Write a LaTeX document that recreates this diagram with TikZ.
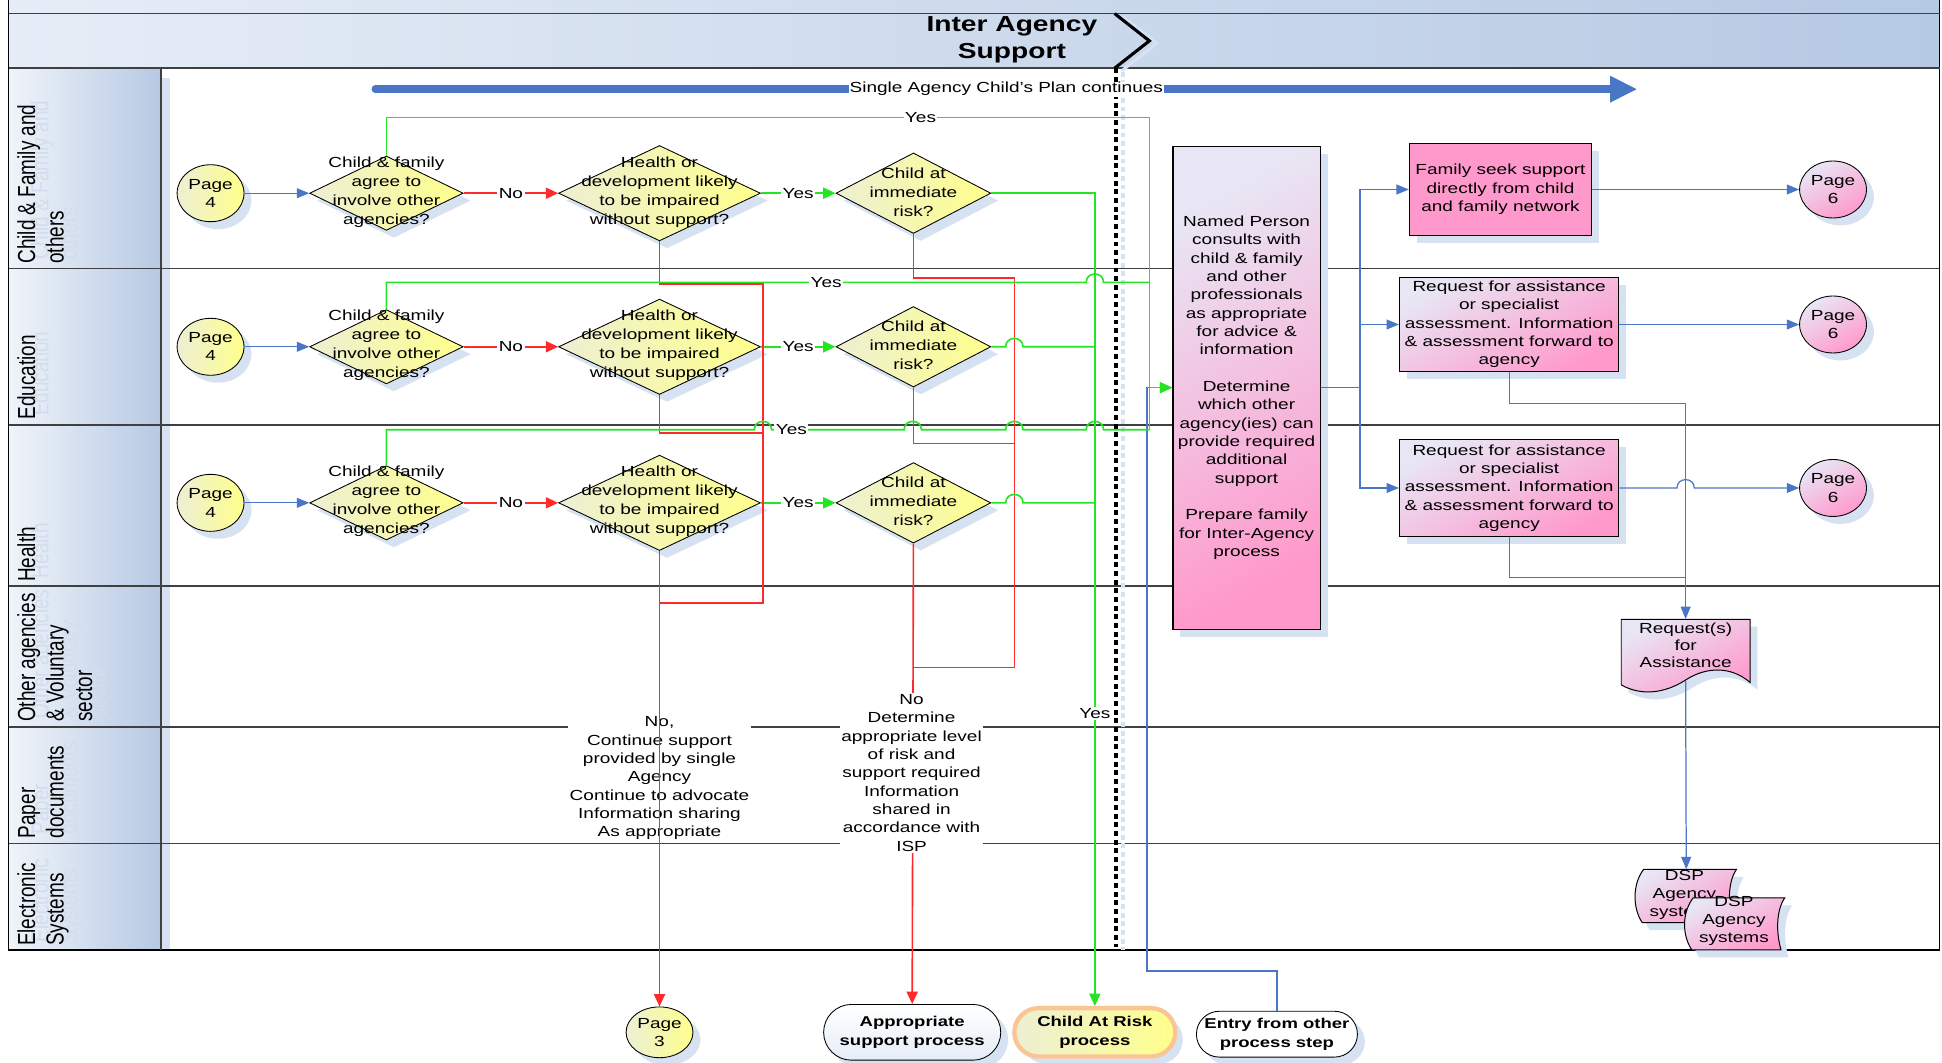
\documentclass[tikz,border=0pt]{standalone}
\usepackage{fontspec}
\usepackage{graphicx}
\setmainfont{Liberation Sans}[FakeStretch=1.3]
\newfontfamily\lanefont{Liberation Sans}
\usetikzlibrary{shapes.geometric,shapes.misc,arrows.meta,shadows}
\definecolor{lnblue}{HTML}{4A76C6}
\definecolor{lnred}{HTML}{FF2A2A}
\definecolor{lngreen}{HTML}{22E622}
\definecolor{shad}{HTML}{D6E2F1}
\definecolor{hdrL}{HTML}{E6EDF7}
\definecolor{hdrR}{HTML}{B6C9E3}
\definecolor{ylwL}{HTML}{EDEFD4}
\definecolor{ylwR}{HTML}{FFFF8C}
\definecolor{pnkL}{HTML}{E8E6F4}
\definecolor{pnkR}{HTML}{FF99CC}
\definecolor{orng}{HTML}{F9C595}
\definecolor{laneline}{HTML}{404040}
\definecolor{ghost}{HTML}{D3DDEE}
\newcommand{\lanetxt}[1]{\scalebox{1}[1.3]{\lanefont\fontsize{15.3}{17.7}\selectfont\begin{tabular}{@{}l@{}}#1\end{tabular}}}
\begin{document}
\begin{tikzpicture}[x=1pt,y=-1pt,
  txtbase/.style={font=\fontsize{11.8}{14.8}\selectfont, align=center, inner sep=0pt},
  dtxt/.style={font=\fontsize{11.8}{15.3}\selectfont, align=center, inner sep=0pt},
  lbl/.style={font=\fontsize{11.8}{14.8}\selectfont, fill=white, text=black, inner sep=1.2pt, align=center},
  shdw/.style={drop shadow={shadow xshift=6pt,shadow yshift=-6pt,fill=shad,opacity=1}},
  dia/.style={diamond, draw=black, line width=0.7pt, inner sep=0pt, left color=ylwL, right color=ylwR, shdw},
  pgy/.style={ellipse, draw=black, line width=0.7pt, minimum width=54pt, minimum height=46pt, left color=ylwL, right color=ylwR, shdw, txtbase},
  pgrad/.style={top color=pnkL, bottom color=pnkR, shading angle=30},
  pgp/.style={ellipse, draw=black, line width=0.7pt, minimum width=54pt, minimum height=46pt, pgrad, shdw, txtbase},
  pbox/.style={rectangle, draw=black, line width=1pt, shdw, txtbase},
  termbox/.style={rounded rectangle, draw=black, line width=0.7pt, inner sep=0pt, shdw, align=center, font=\bfseries\fontsize{11.5}{14.8}\selectfont},
  blueln/.style={draw=lnblue, line width=1pt},
  bluearr/.style={blueln, -{Triangle[length=10pt,width=8pt]}},
  redln/.style={draw=lnred, line width=1.3pt},
  redarr/.style={redln, -{Triangle[length=10pt,width=9pt]}},
  grnln/.style={draw=lngreen, line width=1.3pt},
  grnarr/.style={grnln, -{Triangle[length=10pt,width=9pt]}},
  laneln/.style={draw=laneline, line width=1.2pt},
  lanelbl/.style={rotate=90, anchor=north west, inner sep=0pt},
]
\useasboundingbox (0,0) rectangle (1568,858);
\fill[white] (0,0) rectangle (1568,858);

% bands
\shade[left color=hdrL, right color=hdrR] (7,0) rectangle (1566,11);
\shade[left color=hdrL, right color=hdrR] (7,11) rectangle (1566,55);
\shade[left color=hdrL!60!white, right color=hdrR] (7,55) rectangle (130,767);
\fill[shad] (130,63) rectangle (137,767);

% lane labels
\node[lanelbl, text=ghost] (g1) at (23,210) {\lanetxt{Child \& Family and\\others}};
\node[lanelbl] (l1) at (12,213) {\lanetxt{Child \& Family and\\others}};
\node[lanelbl, text=ghost] (g2) at (23,336) {\lanetxt{Education}};
\node[lanelbl] (l2) at (12,339) {\lanetxt{Education}};
\node[lanelbl, text=ghost] (g3) at (23,467) {\lanetxt{Health}};
\node[lanelbl] (l3) at (12,470) {\lanetxt{Health}};
\node[lanelbl, text=ghost] (g4) at (23,580) {\lanetxt{Other agencies\\\& Voluntary\\sector}};
\node[lanelbl] (l4) at (12,583) {\lanetxt{Other agencies\\\& Voluntary\\sector}};
\node[lanelbl, text=ghost] (g5) at (23,674) {\lanetxt{Paper\\documents}};
\node[lanelbl] (l5) at (12,677) {\lanetxt{Paper\\documents}};
\node[lanelbl, text=ghost] (g6) at (23,761) {\lanetxt{Electronic\\Systems}};
\node[lanelbl] (l6) at (12,764) {\lanetxt{Electronic\\Systems}};

% lanes and frame
\foreach \yy in {217,343,473,587,681} \draw[laneln] (7,\yy) -- (1566,\yy);
\draw[black, line width=1.3pt] (7,0) -- (7,767) -- (1566,767) -- (1566,0);
\draw[laneline, line width=1.3pt] (7,11) -- (1566,11) (7,55) -- (1566,55) (130,55) -- (130,767);

% header
\node[font=\bfseries\fontsize{17.5}{22}\selectfont, align=center, inner sep=0pt] (hdr) at (817,32) {Inter Agency\\Support};
\draw[shad, line width=2.5pt] (906,13) -- (934,35) -- (906,57);
\draw[black, line width=2.5pt] (900,11) -- (928,33) -- (900,55);

% dotted divider
\draw[shad, line width=3pt, dash pattern=on 4pt off 3pt] (907,58) -- (907,767);
\draw[black, line width=3pt, dash pattern=on 4pt off 3pt] (901,55) -- (901,765);

% single agency arrow
\coordinate (saL) at (303,72);
\coordinate (saR) at (1322,72);
\draw[lnblue, line width=6pt, line cap=round, -{Triangle[length=22pt,width=20pt]}] (saL) -- node[lbl, inner sep=0.5pt] (sat) {Single Agency Child's Plan continues} (saR);

% terminals at the bottom
\node[pgy, minimum width=54pt, minimum height=41pt] (pg3) at (532.5,833.5) {Page\\3};
\node[termbox, minimum width=143pt, minimum height=45pt, top color=white, bottom color=hdrL] (appr) at (736.5,833.5) {Appropriate\\support process};
\node[termbox, minimum width=130pt, minimum height=39pt, draw=orng, line width=3.5pt, left color=ylwL, right color=ylwR] (carisk) at (884,833.5) {Child At Risk\\process};
\node[termbox, minimum width=130pt, minimum height=37pt, fill=white] (entry) at (1031,835) {Entry from other\\process step};

% decision rows
\foreach \r/\yy in {a/156,b/280,c/406}{
  \node[pgy] (p4\r) at (170,\yy) {Page\\4};
  \node[dia, minimum width=124pt, minimum height=60pt] (d1\r) at (312,\yy) {};
  \node[dtxt] (t1\r) at (312,\yy-1) {Child \& family\\agree to\\involve other\\agencies?};
  \node[dia, minimum width=163pt, minimum height=77pt] (d2\r) at (532.5,\yy) {};
  \node[dtxt] (t2\r) at (532.5,\yy-1) {Health or\\development likely\\to be impaired\\without support?};
  \node[dia, minimum width=125pt, minimum height=65pt] (d3\r) at (737.5,\yy) {};
  \node[dtxt] (t3\r) at (737.5,\yy-1) {Child at\\immediate\\risk?};
  \draw[bluearr] (p4\r.east) -- (d1\r.west);
  \draw[redarr] (d1\r.east) -- node[lbl] (no\r) {No} (d2\r.west);
  \draw[grnarr] (d2\r.east) -- node[lbl] (ys\r) {Yes} (d3\r.west);
}

% named person box and right column
\node[pbox, pgrad, minimum width=119pt, minimum height=390pt] (np) at (1006.5,313) {Named Person\\consults with\\child \& family\\and other\\professionals\\as appropriate\\for advice \&\\information\\[14.8pt]Determine\\which other\\agency(ies) can\\provide required\\additional\\support\\[14.8pt]Prepare family\\for Inter-Agency\\process};
\node[pbox, fill=pnkR, minimum width=147pt, minimum height=74pt] (boxA) at (1211.5,153) {Family seek support\\directly from child\\and family network};
\node[pbox, pgrad, minimum width=177pt, minimum height=76pt] (boxB) at (1218.5,262) {Request for assistance\\or specialist\\assessment. Information\\\& assessment forward to\\agency};
\node[pbox, pgrad, minimum width=177pt, minimum height=78pt] (boxC) at (1218.5,394) {Request for assistance\\or specialist\\assessment. Information\\\& assessment forward to\\agency};
\node[pgp] (p6a) at (1480,153) {Page\\6};
\node[pgp] (p6b) at (1480,262) {Page\\6};
\node[pgp] (p6c) at (1480,394) {Page\\6};

% request document
\node[inner sep=0pt, minimum width=104pt, minimum height=57pt] (req) at (1361,528.5) {};
\fill[shad, shift={(6,6)}] (1309,500) -- (1413,500) -- (1413,551) .. controls (1398,538) and (1378,538) .. (1361,549) .. controls (1344,560) and (1325,562) .. (1309,553) -- cycle;
\shadedraw[top color=pnkL, bottom color=pnkR, shading angle=30, draw=black, line width=0.8pt] (1309,500) -- (1413,500) -- (1413,551) .. controls (1398,538) and (1378,538) .. (1361,549) .. controls (1344,560) and (1325,562) .. (1309,553) -- cycle;
\node[txtbase, font=\fontsize{11.8}{14}\selectfont] (reqt) at (1361,521) {Request(s)\\for\\Assistance};
\coordinate (reqb) at (1361,550);

% DSP systems
\node[inner sep=0pt, minimum width=81pt, minimum height=43pt] (dsp1) at (1361.5,723.5) {};
\fill[shad, shift={(6,6)}] (1327,702) -- (1402,702) .. controls (1395,712) and (1395,731) .. (1399,745) -- (1326,745) .. controls (1318,733) and (1318,714) .. (1327,702) -- cycle;
\shadedraw[top color=pnkL, bottom color=pnkR, shading angle=30, draw=black, line width=0.8pt] (1327,702) -- (1402,702) .. controls (1395,712) and (1395,731) .. (1399,745) -- (1326,745) .. controls (1318,733) and (1318,714) .. (1327,702) -- cycle;
\node[txtbase, font=\fontsize{11.8}{14.5}\selectfont] (dsp1t) at (1360,722.5) {DSP\\Agency\\systems};
\node[inner sep=0pt, minimum width=80pt, minimum height=42pt] (dsp2) at (1401,746) {};
\fill[shad, shift={(6,6)}] (1367,725) -- (1441,725) .. controls (1434,735) and (1434,753) .. (1438,767) -- (1366,767) .. controls (1358,755) and (1358,737) .. (1367,725) -- cycle;
\shadedraw[top color=pnkL, bottom color=pnkR, shading angle=30, draw=black, line width=0.8pt] (1367,725) -- (1441,725) .. controls (1434,735) and (1434,753) .. (1438,767) -- (1366,767) .. controls (1358,755) and (1358,737) .. (1367,725) -- cycle;
\node[txtbase, font=\fontsize{11.8}{14.5}\selectfont] (dsp2t) at (1400,743.5) {DSP\\Agency\\systems};

% red "no" routes
\draw[redln] (d2a.south) |- (616,229.5) -- (616,487) -- (532.5,487);
\draw[redln] (d2b.south) |- (616,349.5);
\node[lbl] (nol) at (532.5,628.5) {No,\\Continue support\\provided by single\\Agency\\Continue to advocate\\Information sharing\\As appropriate};
\draw[redarr] (d2c.south) -- (pg3.north);
\draw[redln] (d3a.south) |- (819,224.5) -- (819,539) -- (737.5,539);
\draw[redln] (d3b.south) |- (819,358);
\draw[redarr] (d3c.south) -- (appr.north);
\node[lbl] (nor) at (736,624) {No\\Determine\\appropriate level\\of risk and\\support required\\Information\\shared in\\accordance with\\ISP};

% green "yes" routes to the named person
\draw[blueln, -{Triangle[length=10pt,width=8pt]}] (entry.north) |- (926,784) |- (np.west);
\draw[grnln] (d1a.north) |- node[lbl, pos=0.85] (ya) {Yes} (928,95) -- (928,347);
\draw[grnln] (d1b.north) |- (877,228) .. controls (877,219) and (891,219) .. (891,228) -- (928,228);
\node[lbl] (yb) at (667,228) {Yes};
\draw[grnln] (d1c.north) |- (609,347) .. controls (609,338) and (623,338) .. (623,347) -- (730,347) .. controls (730,338) and (744,338) .. (744,347) -- (812,347) .. controls (812,338) and (826,338) .. (826,347) -- (877,347) .. controls (877,338) and (891,338) .. (891,347) -- (928,347);
\node[lbl] (yc) at (639,347) {Yes};
\draw[grnarr] (928,313) -- (np.west);

% green "yes" routes to child at risk
\draw[grnarr] (d3a.east) -| (carisk.north);
\draw[grnln] (d3b.east) -- (812,280) .. controls (812,271) and (826,271) .. (826,280) -- (884,280);
\draw[grnln] (d3c.east) -- (812,406) .. controls (812,397) and (826,397) .. (826,406) -- (884,406);
\node[lbl] (yv) at (884,576) {Yes};

% blue routes on the right
\coordinate (split) at (1098,313);
\draw[blueln] (np.east) -- (split);
\draw[bluearr] (split) |- (boxA.west);
\draw[bluearr] (split) |- (boxB.west);
\draw[bluearr] (split) |- (boxC.west);
\draw[bluearr] (boxA.east) -- (p6a.west);
\draw[bluearr] (boxB.east) -- (p6b.west);
\draw[bluearr] (boxC.east) -- (1354,394) .. controls (1354,385) and (1368,385) .. (1368,394) -- (p6c.west);
\draw[blueln] (boxB.south) |- (1361,326) -- (1361,466);
\draw[bluearr] (boxC.south) |- (1361,466) -- (req.north);
\draw[bluearr] (reqb) -- (dsp1.north);
\end{tikzpicture}
\end{document}
